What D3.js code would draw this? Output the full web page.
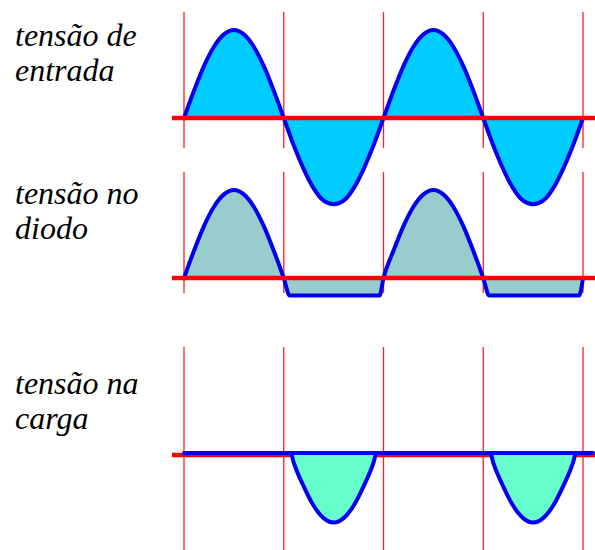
<!DOCTYPE html>
<html>
<head>
<meta charset="utf-8">
<script src="https://cdn.jsdelivr.net/npm/d3@7"></script>
<style>body{margin:0;background:#fff}</style>
</head>
<body>
<svg id="chart" width="595" height="550"></svg>
<script>
// time in half-cycles, voltage as a fraction of the input peak
const halfCycles = [0, 1, 2, 3, 4];

const inputTimes = [0, 0.1, 0.2, 0.3, 0.4, 0.5, 0.6, 0.7, 0.8, 0.9,
  1, 1.1, 1.2, 1.3, 1.4, 1.5, 1.6, 1.7, 1.8, 1.9,
  2, 2.1, 2.2, 2.3, 2.4, 2.5, 2.6, 2.7, 2.8, 2.9,
  3, 3.1, 3.2, 3.3, 3.4, 3.5, 3.6, 3.7, 3.8, 3.9, 4];
const inputValues = [0, 0.31, 0.59, 0.81, 0.95, 1, 0.95, 0.81, 0.59, 0.31,
  0, -0.31, -0.58, -0.8, -0.94, -0.98, -0.94, -0.8, -0.58, -0.31,
  0, 0.31, 0.59, 0.81, 0.95, 1, 0.95, 0.81, 0.59, 0.31,
  0, -0.31, -0.58, -0.8, -0.94, -0.98, -0.94, -0.8, -0.58, -0.31, 0];

const diodeTimes = [0, 0.1, 0.2, 0.3, 0.4, 0.5, 0.6, 0.7, 0.8, 0.9, 1, 1.06, 1.96, 2,
  2.1, 2.2, 2.3, 2.4, 2.5, 2.6, 2.7, 2.8, 2.9, 3, 3.06, 3.96, 4];
const diodeValues = [0, 0.31, 0.59, 0.81, 0.95, 1, 0.95, 0.81, 0.59, 0.31, 0, -0.2, -0.2, 0,
  0.31, 0.59, 0.81, 0.95, 1, 0.95, 0.81, 0.59, 0.31, 0, -0.2, -0.2, 0];

const loadTimes = [0, 1.07, 1.1, 1.2, 1.3, 1.4, 1.5, 1.6, 1.7, 1.8, 1.9, 1.93,
  3.07, 3.1, 3.2, 3.3, 3.4, 3.5, 3.6, 3.7, 3.8, 3.9, 3.93, 4.1];
const loadValues = [0, 0, -0.11, -0.38, -0.6, -0.74, -0.79, -0.74, -0.6, -0.38, -0.11, 0,
  0, -0.11, -0.38, -0.6, -0.74, -0.79, -0.74, -0.6, -0.38, -0.11, 0, 0];

const labels = [["tensão de", "entrada"], ["tensão no", "diodo"], ["tensão na", "carga"]];

const svg = d3.select("#chart");

const x = d3.scaleLinear().domain([0, 4]).range([184, 583]);

const panels = [
  {base: 118, top: 12, bottom: 148, textY: 46, fill: "#00ccff", times: inputTimes, values: inputValues, redOnTop: true},
  {base: 278, top: 172, bottom: 293, textY: 204, fill: "#99cccc", times: diodeTimes, values: diodeValues, redOnTop: true},
  {base: 453, top: 347, bottom: 550, textY: 394, fill: "#66ffcc", times: loadTimes, values: loadValues, redOnTop: false}
];

panels.forEach((p, i) => {
  let y = d3.scaleLinear().domain([-1, 1]).range([p.base + 88, p.base - 88]);
  let g = svg.append("g");

  g.selectAll("line.grid").data(halfCycles).enter().append("line")
    .attr("class", "grid")
    .attr("x1", d => x(d)).attr("x2", d => x(d))
    .attr("y1", p.top).attr("y2", p.bottom)
    .attr("stroke", "#ff2020").attr("stroke-width", 1.3);

  let pts = p.times.map((t, j) => [t, p.values[j]]);
  let area = d3.area()
    .x(d => x(d[0])).y0(y(0)).y1(d => y(d[1]))
    .curve(d3.curveMonotoneX);

  let zeroLine = () => g.append("line")
    .attr("x1", 172).attr("x2", 595)
    .attr("y1", p.redOnTop ? y(0) : y(0) + 2).attr("y2", p.redOnTop ? y(0) : y(0) + 2)
    .attr("stroke", "#ff0000").attr("stroke-width", 4.3);

  if (!p.redOnTop) zeroLine();

  g.append("path").attr("d", area(pts))
    .attr("fill", p.fill).attr("stroke", "#0000ee")
    .attr("stroke-width", 4).attr("stroke-linejoin", "round");

  if (p.redOnTop) zeroLine();

  let txt = svg.append("text")
    .attr("x", 15).attr("y", p.textY)
    .attr("font-family", "Liberation Serif").attr("font-style", "italic")
    .attr("font-size", 32).attr("fill", "#000");
  txt.selectAll("tspan").data(labels[i]).enter().append("tspan")
    .attr("x", 15).attr("dy", (d, k) => k ? 35 : 0)
    .text(d => d);
});
</script>
</body>
</html>
